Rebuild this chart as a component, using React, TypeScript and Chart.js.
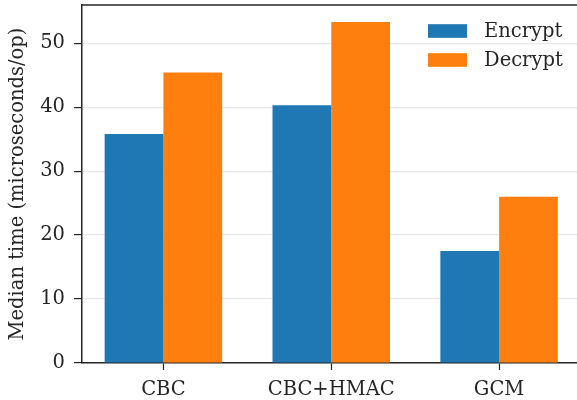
import React, { useEffect, useRef } from "react";
import { Chart, registerables } from "chart.js";

Chart.register(...registerables);

const categories = ["CBC", "CBC+HMAC", "GCM"];
const encryptValues = [35.8, 40.3, 17.5];
const decryptValues = [45.4, 53.3, 26.0];
const yTicks = [0, 10, 20, 30, 40, 50];
const seriesLabels = ["Encrypt", "Decrypt"];
const seriesColors = ["#1f77b4", "#ff7f0e"];

const FONT = "DejaVu Serif";
const FS = 19.5;
const DARK = "#262626";

const framePlugin = {
  id: "frame",
  afterDraw(chart: any) {
    const { ctx, chartArea } = chart;
    const { left, right, top, bottom } = chartArea;
    ctx.save();
    ctx.strokeStyle = DARK;
    ctx.lineWidth = 1.5;
    ctx.beginPath();
    ctx.moveTo(left, top);
    ctx.lineTo(right, top);
    ctx.lineTo(right, bottom);
    ctx.stroke();
    // legend
    const ds = chart.data.datasets;
    ctx.font = `${FS}px '${FONT}'`;
    ctx.textBaseline = "middle";
    ctx.textAlign = "left";
    const x0 = 428;
    const rowY = [31, 60];
    ds.forEach((d: any, i: number) => {
      ctx.fillStyle = d.backgroundColor;
      ctx.fillRect(x0, rowY[i] - 6.8, 39, 13.6);
      ctx.fillStyle = DARK;
      ctx.fillText(d.label, x0 + 56, rowY[i] + 1);
    });
    ctx.restore();
  },
};

export default function App() {
  const ref = useRef<HTMLCanvasElement>(null);
  useEffect(() => {
    if (!ref.current) return;
    const chart = new Chart(ref.current, {
      type: "bar",
      data: {
        datasets: [
          {
            label: seriesLabels[0],
            data: categories.map((_, i) => ({ x: i, y: encryptValues[i] })),
            backgroundColor: seriesColors[0],
            borderWidth: 0,
            categoryPercentage: 0.7,
            barPercentage: 1,
          },
          {
            label: seriesLabels[1],
            data: categories.map((_, i) => ({ x: i, y: decryptValues[i] })),
            backgroundColor: seriesColors[1],
            borderWidth: 0,
            categoryPercentage: 0.7,
            barPercentage: 1,
          },
        ],
      },
      options: {
        responsive: false,
        animation: false,
        layout: { padding: { top: 5, right: 9.5, bottom: 0, left: 0 } },
        plugins: { legend: { display: false }, tooltip: { enabled: false } },
        scales: {
          x: {
            type: "linear",
            min: -0.485,
            max: 2.485,
            offset: false,
            afterBuildTicks: (s: any) => {
              s.ticks = categories.map((_, i) => ({ value: i }));
            },
            afterFit: (s: any) => {
              s.height = 37;
              s.paddingLeft = 0;
              s.paddingRight = 0;
            },
            grid: {
              offset: false,
              drawOnChartArea: false,
              drawTicks: true,
              tickLength: 7,
              tickColor: DARK,
              tickWidth: 1.2,
            },
            border: { color: DARK, width: 1.5 },
            ticks: {
              color: DARK,
              font: { family: FONT, size: FS },
              padding: 8,
              maxRotation: 0,
              autoSkip: false,
              callback: (v: any) => categories[v as number] ?? "",
            },
          },
          y: {
            type: "linear",
            min: 0,
            max: 55.97,
            z: 1,
            afterBuildTicks: (s: any) => {
              s.ticks = yTicks.map((v) => ({ value: v }));
            },
            afterFit: (s: any) => {
              s.width = 82;
              s.paddingTop = 0;
              s.paddingBottom = 0;
            },
            grid: {
              color: "rgba(176,176,176,0.3)",
              lineWidth: 1.2,
              drawTicks: true,
              tickLength: 8,
              tickColor: DARK,
              tickWidth: 1.2,
            },
            border: { color: DARK, width: 1.5 },
            ticks: {
              color: DARK,
              font: { family: FONT, size: FS },
              padding: 9,
            },
            title: {
              display: true,
              text: "Median time (microseconds/op)",
              color: DARK,
              font: { family: FONT, size: FS },
              padding: { top: 6, bottom: 0 },
            },
          },
        },
      },
      plugins: [framePlugin],
    } as any);
    return () => chart.destroy();
  }, []);
  return (
    <div
      style={{
        position: "absolute",
        left: 0,
        top: 0,
        width: 577,
        height: 400,
        overflow: "hidden",
        background: "#fff",
      }}
    >
      <canvas ref={ref} width={590} height={400} style={{ display: "block" }} />
    </div>
  );
}
